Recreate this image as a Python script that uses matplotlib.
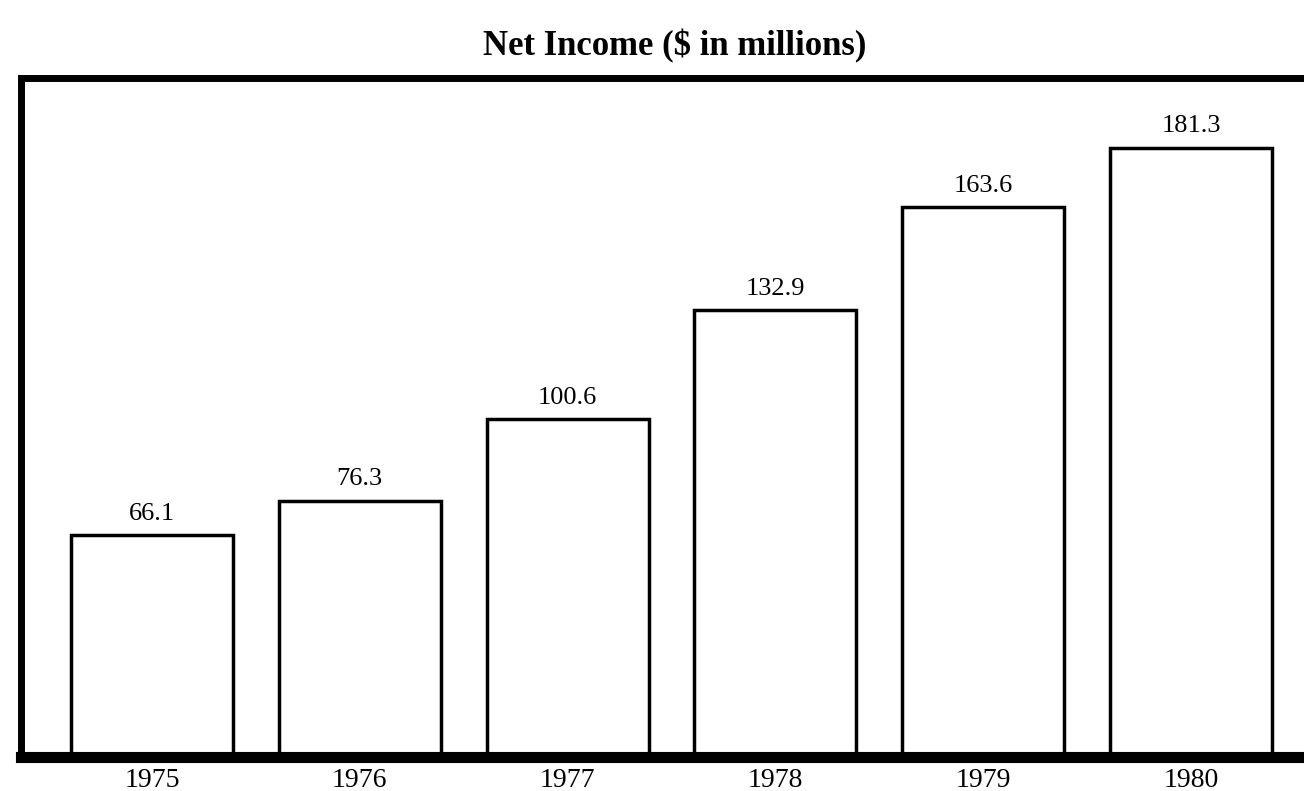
import matplotlib
matplotlib.use('Agg')
import matplotlib.pyplot as plt

years = ['1975', '1976', '1977', '1978', '1979', '1980']
net_income = [66.1, 76.3, 100.6, 132.9, 163.6, 181.3]

plt.rcParams['font.family'] = ['Liberation Serif', 'DejaVu Serif']

fig = plt.figure(figsize=(13.04, 7.91), dpi=100)
ax = fig.add_axes([21 / 1304, 34 / 791, 1290 / 1304, 679 / 791])

x = range(len(years))
bars = ax.bar(x, net_income, width=0.78, facecolor='white',
              edgecolor='black', linewidth=2.5)

for xi, v in zip(x, net_income):
    ax.text(xi, v + 3, f'{v}', ha='center', va='bottom', fontsize=19)

ax.set_xlim(-0.63, 5.577)
ax.set_ylim(0, 202)
ax.set_xticks(list(x))
ax.set_xticklabels(years, fontsize=20)
ax.set_yticks([])
ax.tick_params(axis='x', length=0, pad=8)

for side in ['left', 'top', 'right']:
    ax.spines[side].set_linewidth(5)
ax.spines['bottom'].set_linewidth(8)

fig.text(675 / 1304, 1 - 46 / 791, 'Net Income ($ in millions)', ha='center',
         va='center', fontsize=25, fontweight='bold')

fig.savefig('out.png', dpi=100)
